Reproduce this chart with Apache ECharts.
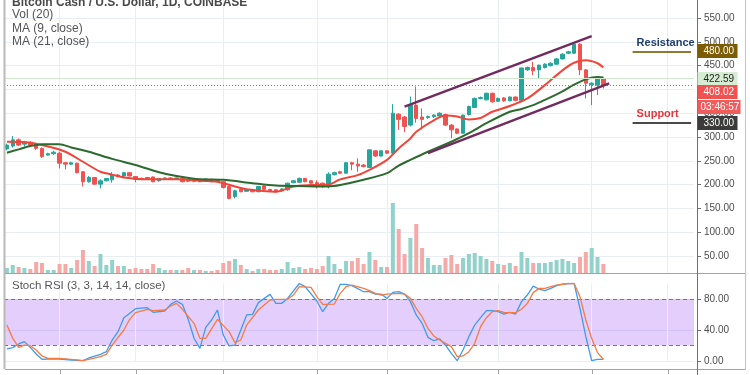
<!DOCTYPE html>
<html>
<head>
<meta charset="utf-8">
<title>Bitcoin Cash / U.S. Dollar, 1D, COINBASE</title>
<script src="https://cdn.jsdelivr.net/npm/echarts@6/dist/echarts.min.js"></script>
<style>
  html, body { margin: 0; padding: 0; background: #fff; }
  #chart { width: 750px; height: 375px; }
</style>
</head>
<body>
<div id="chart"></div>
<script>
// 日线K线 [开, 收, 低, 高]
const candles = [
    [275, 283, 272, 286], [281, 294, 278, 302], [294, 283, 281, 297], [285, 290, 280, 292], [289, 283, 281, 291],
    [285, 276, 273, 288], [276, 259, 256, 278], [262, 265, 261, 267], [265, 268, 262, 271], [266, 245, 234, 269],
    [246, 243, 232, 247], [243, 246, 241, 248], [245, 225, 224, 246], [227, 206, 196, 228], [206, 215, 204, 218],
    [215, 201, 200, 216], [201, 208, 192, 211], [208, 213, 207, 214], [210, 220, 204, 226], [220, 217, 215, 222],
    [218, 225, 216, 227], [225, 218, 217, 226], [217, 211, 205, 218], [213, 212, 210, 215], [215, 211, 210, 216],
    [216, 206, 205, 217], [208, 213, 206, 214], [212, 214, 211, 215], [214, 211, 210, 215], [211, 214, 210, 215],
    [213, 206, 205, 214], [211, 207, 205, 212], [207, 211, 205, 212], [211, 206, 205, 212], [208, 212, 207, 213],
    [211, 206, 205, 212], [210, 206, 205, 211], [206, 194, 192, 207], [196, 171, 169, 197], [175, 187, 171, 189],
    [190, 185, 184, 191], [186, 189, 185, 190], [189, 185, 184, 190], [185, 196, 184, 197], [197, 190, 189, 198],
    [190, 187, 186, 191], [189, 185, 183, 190], [187, 191, 185, 192], [189, 203, 187, 204], [204, 208, 203, 209],
    [205, 213, 204, 215], [213, 206, 205, 214], [208, 203, 202, 209], [204, 199, 192, 209], [203, 196, 193, 204],
    [196, 222, 192, 226], [221, 225, 219, 227], [227, 224, 223, 229], [224, 246, 223, 247], [246, 243, 230, 248],
    [243, 239, 227, 255], [241, 238, 236, 243], [236, 273, 235, 274], [271, 260, 258, 272], [260, 271, 259, 272],
    [271, 266, 265, 272], [266, 350, 262, 369], [348, 337, 315, 350], [342, 322, 310, 344], [325, 368, 322, 385],
    [367, 339, 330, 406], [342, 337, 316, 360], [341, 343, 338, 345], [343, 346, 340, 348], [344, 350, 342, 352],
    [347, 325, 323, 349], [325, 315, 297, 327], [317, 308, 306, 318], [308, 346, 307, 347], [347, 364, 345, 366],
    [362, 381, 361, 383], [381, 383, 379, 385], [378, 392, 377, 393], [392, 374, 372, 393], [375, 381, 374, 383],
    [382, 376, 374, 384], [376, 384, 375, 385], [384, 377, 375, 385], [377, 445, 376, 446], [441, 446, 439, 448],
    [446, 439, 430, 458], [441, 451, 423, 452], [446, 453, 444, 455], [450, 455, 448, 457], [453, 464, 452, 466],
    [464, 474, 463, 476], [476, 479, 474, 481], [476, 495, 475, 497], [495, 441, 430, 497], [441, 413, 381, 443],
    [410, 413, 367, 415], [409, 423, 388, 425], [423, 408, 402, 425]
];

const volume = [
    5, 8, 6, 5, 4, 11, 10, 3, 3, 9, 9, 5, 13, 23, 12, 7, 19, 8, 13, 7,
    7, 4, 5, 4, 4, 9, 5, 3, 3, 3, 3, 5, 3, 3, 2, 2, 3, 10, 12, 14,
    8, 4, 2, 4, 4, 3, 3, 4, 11, 5, 6, 4, 5, 4, 7, 17, 9, 4, 12, 12,
    15, 9, 21, 13, 6, 6, 70, 44, 19, 35, 49, 25, 15, 8, 8, 15, 18, 9, 15, 19,
    20, 17, 14, 12, 9, 8, 10, 7, 21, 15, 10, 10, 10, 11, 13, 14, 12, 10, 16, 21,
    25, 16, 9
];

// 均线 [K线序号, 值]
const ma9Points = [
    [0, 290], [4, 288], [7, 280], [10, 269], [13, 248], [16, 227], [18, 221], [20, 215], [24, 211], [29, 211],
    [33, 208], [36, 206], [39, 196], [41, 190], [46, 185], [49, 196], [52, 199], [55, 200], [57, 211], [60, 220],
    [62, 231], [65, 252], [67, 276], [69, 297], [70, 311], [73, 335], [75, 345], [77, 343], [79, 337], [81, 340],
    [83, 353], [86, 365], [89, 381], [92, 409], [95, 440], [97, 456], [99, 461], [101, 455], [102, 446]
];
const ma21Points = [
    [0, 267], [2, 274], [4, 281], [6, 285], [9, 285], [11, 278], [14, 269], [18, 254], [22, 241], [26, 226],
    [29, 218], [33, 211], [37, 210], [42, 203], [46, 198], [50, 197], [55, 196], [57, 199], [61, 210], [65, 224],
    [67, 240], [69, 252], [72, 269], [76, 290], [79, 308], [82, 329], [86, 353], [88, 359], [90, 367], [92, 378],
    [95, 396], [97, 410], [99, 421], [101, 426], [102, 425]
];

// Stoch RSI
const stochK = [
    [0, 15.5], [1, 17.2], [2, 22], [3, 25], [4, 17.6], [5, 9], [6, 2.2], [7, 2.6], [9, 2.6], [11, 1.3],
    [13, 0.4], [14, 3.9], [16, 8.6], [17, 12], [18, 27], [19, 37.8], [20, 55.9], [21, 61.5], [22, 67.5], [24, 68.8],
    [25, 62.8], [27, 64.5], [28, 73.1], [29, 77.4], [30, 73.1], [31, 53.8], [32, 29.3], [33, 16.3], [34, 43.4], [35, 52.9],
    [36, 65.8], [37, 33.5], [38, 19.4], [39, 20.6], [41, 59.4], [42, 60.2], [43, 75.3], [45, 86], [46, 74.4], [47, 74.4],
    [48, 80.8], [50, 100], [51, 95.9], [53, 77.4], [54, 63.6], [55, 74.4], [56, 80.8], [57, 98.9], [58, 98.9], [59, 97.2],
    [61, 89.4], [62, 89.4], [63, 86.4], [64, 86.4], [65, 80.8], [66, 88.6], [67, 89.4], [68, 86.4], [69, 76.6], [70, 59.4],
    [71, 48.6], [72, 30.5], [73, 26.2], [74, 28.4], [75, 20.6], [76, 9.9], [77, 0.4], [78, 14.2], [79, 31.4], [80, 46.4],
    [81, 55.9], [82, 64.9], [83, 64.9], [84, 63.6], [85, 60.6], [86, 62.8], [87, 60.6], [88, 76.6], [89, 85.1], [90, 96.7],
    [91, 92.9], [92, 90.7], [93, 93.7], [94, 97.2], [95, 99.3], [96, 100], [97, 100], [98, 67.9], [99, 31.4], [100, 0.4],
    [101, 2.2], [102, 2.2]
];
const stochD = [
    [0, 46.4], [1, 29.2], [2, 17.6], [3, 20.6], [4, 19.8], [5, 14.2], [6, 6.5], [7, 3.4], [9, 3.4], [11, 2.2],
    [13, 0.4], [14, 2.2], [16, 5.6], [17, 8.6], [18, 20.6], [20, 40], [21, 53.8], [22, 62.4], [24, 66.7], [25, 64.9],
    [27, 65.8], [28, 71], [29, 74.4], [30, 66.7], [32, 48.6], [33, 29.2], [34, 29.2], [36, 53.8], [38, 37.9], [39, 23.7],
    [40, 27.1], [41, 46.4], [43, 65.8], [45, 78.7], [46, 79.6], [48, 79.6], [49, 85.1], [50, 95.9], [52, 95], [53, 83],
    [54, 73.1], [56, 73.5], [57, 87.3], [58, 95.9], [59, 98], [61, 93.7], [62, 90.7], [63, 87.3], [64, 85.1], [65, 86.4],
    [67, 87.3], [68, 86.4], [69, 80.8], [70, 68], [71, 57.2], [72, 42.2], [73, 32.3], [74, 27.1], [76, 18.5], [77, 5.6],
    [78, 6.5], [79, 12], [80, 22.8], [81, 44.3], [82, 55.9], [83, 63.6], [84, 64.9], [85, 62.8], [87, 62.4], [88, 66.7],
    [89, 74.4], [90, 88.2], [91, 93.7], [92, 93.7], [93, 95.9], [94, 98], [96, 100], [97, 100], [98, 83], [99, 52.9],
    [100, 29.2], [101, 10.8], [102, 2.2]
];

const priceTicks = [50, 100, 150, 200, 250, 300, 350, 400, 450, 500, 550];
const rsiTicks = [0, 40, 80];
const gridLineIdx = [9, 22, 37, 53, 65, 84, 100, 113];
const channelUpper = [[68, 363.6], [100, 512]];
const channelLower = [[72, 266], [103, 412.4]];
const resistance = 480;
const support = 330;
const lastPrice = 408.02;
const maLast = 422.59;
const totalBars = 118;

// 日期序列（含右侧空白区）
const dates = [];
const startDay = Date.UTC(2019, 10, 9);
for (let i = 0; i < totalBars; i++) {
    dates.push(new Date(startDay + i * 86400000).toISOString().slice(0, 10));
}

const UP = '#26a69a';
const DOWN = '#ef5350';
const GRID_COLOR = '#e9eef4';
const FONT = '"Liberation Sans Narrow", "Liberation Sans", sans-serif';

const volumeData = volume.map(function (v, i) {
    const up = candles[i][1] >= candles[i][0];
    return { value: v, itemStyle: { color: up ? '#93d2cb' : '#f6aaa8' } };
});

function hiddenX(gridIndex) {
    return {
        type: 'category', gridIndex: gridIndex, data: dates, boundaryGap: true,
        axisLine: { show: false }, axisTick: { show: false }, axisLabel: { show: false }, splitLine: { show: false }
    };
}

const vLines = gridLineIdx.map(function (i) { return { xAxis: i }; });

const chart = echarts.init(document.getElementById('chart'));

const option = {
    animation: false,
    backgroundColor: '#fff',
    grid: [
        { left: 4, right: 56, top: 0, height: 273 },
        { left: 4, right: 56, top: 193, height: 80 },
        { left: 4, right: 56, top: 283.5, bottom: 14 }
    ],
    xAxis: [hiddenX(0), hiddenX(1), hiddenX(2)],
    yAxis: [
        {
            type: 'value', gridIndex: 0, position: 'right', offset: 3, min: 14.3, max: 587.8,
            axisLine: { show: false },
            axisTick: { show: true, length: 4, customValues: priceTicks, lineStyle: { color: '#6f6f6f' } },
            axisLabel: {
                customValues: priceTicks, margin: 7, color: '#4d4d4d', fontSize: 10, fontFamily: FONT,
                formatter: function (v) { return v.toFixed(2); }
            },
            splitLine: { show: true, lineStyle: { color: GRID_COLOR } }
        },
        {
            type: 'value', gridIndex: 1, min: 0, max: 80, show: false,
            splitLine: { show: false }
        },
        {
            type: 'value', gridIndex: 2, position: 'right', offset: 3, min: 0, max: 100,
            axisLine: { show: false },
            axisTick: { show: true, length: 4, customValues: rsiTicks, lineStyle: { color: '#6f6f6f' } },
            axisLabel: {
                customValues: rsiTicks, margin: 7, color: '#4d4d4d', fontSize: 10, fontFamily: FONT,
                formatter: function (v) { return v.toFixed(2); }
            },
            splitLine: { show: true, lineStyle: { color: GRID_COLOR } }
        }
    ],
    series: [
        {
            // 竖向网格线
            name: 'gridV', type: 'line', xAxisIndex: 0, yAxisIndex: 0, data: [], silent: true,
            markLine: {
                silent: true, symbol: ['none', 'none'], z: 1, label: { show: false },
                lineStyle: { color: GRID_COLOR, width: 1, type: 'solid' },
                data: vLines
            }
        },
        {
            name: 'Vol', type: 'bar', xAxisIndex: 1, yAxisIndex: 1, data: volumeData, barWidth: 4, silent: true
        },
        {
            name: 'BCHUSD', type: 'candlestick', xAxisIndex: 0, yAxisIndex: 0, data: candles, barWidth: 4,
            itemStyle: { color: UP, color0: DOWN, borderColor: UP, borderColor0: DOWN, borderWidth: 1 },
            markLine: {
                silent: true, symbol: ['none', 'none'],
                label: { show: false },
                data: [
                    { yAxis: maLast, lineStyle: { color: '#cfe7cb', width: 1, type: 'solid' } },
                    { yAxis: lastPrice, lineStyle: { color: '#ef5350', width: 1, type: [1, 2] } },
                    [
                        { coord: channelUpper[0], lineStyle: { color: '#722b5e', width: 2.4, type: 'solid' } },
                        { coord: channelUpper[1] }
                    ],
                    [
                        { coord: channelLower[0], lineStyle: { color: '#722b5e', width: 2.4, type: 'solid' } },
                        { coord: channelLower[1] }
                    ],
                    [
                        {
                            coord: [107, resistance], lineStyle: { color: '#957634', width: 2, type: 'solid' },
                            label: {
                                show: true, position: 'insideStartTop', distance: [4, 3], formatter: 'Resistance',
                                color: '#1f3d6c', fontWeight: 'bold', fontSize: 11, fontFamily: FONT
                            }
                        },
                        { coord: [117, resistance] }
                    ],
                    [
                        {
                            coord: [107, support], lineStyle: { color: '#4a4a4a', width: 2, type: 'solid' },
                            label: {
                                show: true, position: 'insideStartTop', distance: [4, 3], formatter: 'Support',
                                color: '#e0383e', fontWeight: 'bold', fontSize: 11, fontFamily: FONT
                            }
                        },
                        { coord: [117, support] }
                    ]
                ]
            }
        },
        {
            name: 'MA9', type: 'line', xAxisIndex: 0, yAxisIndex: 0, data: ma9Points, smooth: 0.3,
            showSymbol: false, silent: true, lineStyle: { color: '#f0453a', width: 2 }
        },
        {
            name: 'MA21', type: 'line', xAxisIndex: 0, yAxisIndex: 0, data: ma21Points, smooth: 0.3,
            showSymbol: false, silent: true, lineStyle: { color: '#2d6a2f', width: 2 }
        },
        {
            // RSI 区间带与网格
            name: 'rsiBand', type: 'line', xAxisIndex: 2, yAxisIndex: 2, data: [], silent: true,
            markArea: {
                silent: true, z: 0,
                itemStyle: { color: 'rgba(149, 60, 240, 0.25)' },
                data: [[{ yAxis: 20 }, { yAxis: 80 }]]
            },
            markLine: {
                silent: true, symbol: ['none', 'none'], z: 1, label: { show: false },
                lineStyle: { color: GRID_COLOR, width: 1, type: 'solid' },
                data: vLines.concat([
                    { yAxis: 80, lineStyle: { color: '#787878', width: 1, type: [4, 3] } },
                    { yAxis: 20, lineStyle: { color: '#787878', width: 1, type: [4, 3] } }
                ])
            }
        },
        {
            name: '%K', type: 'line', xAxisIndex: 2, yAxisIndex: 2, data: stochK,
            showSymbol: false, silent: true, lineStyle: { color: '#3f9bf0', width: 1.3 }
        },
        {
            name: '%D', type: 'line', xAxisIndex: 2, yAxisIndex: 2, data: stochD,
            showSymbol: false, silent: true, lineStyle: { color: '#f47c45', width: 1.3 }
        }
    ]
};

chart.setOption(option);

// 价格标签
function priceY(v) {
    return chart.convertToPixel({ yAxisIndex: 0 }, v);
}

function tagBox(cy, text, bg, fg, w, tx) {
    const top = Math.round(cy) - 7;
    return [
        { type: 'rect', z: 120, silent: true, shape: { x: 697.5, y: top, width: w, height: 14 }, style: { fill: bg } },
        {
            type: 'text', z: 121, silent: true,
            style: { x: 697.5 + tx, y: top + 7.5, text: text, fill: fg, font: '10px ' + FONT, verticalAlign: 'middle' }
        }
    ];
}

function hLine(x1, x2, y, color, w) {
    return { type: 'line', z: 90, silent: true, shape: { x1: x1, y1: y, x2: x2, y2: y }, style: { stroke: color, lineWidth: w || 1 } };
}
function vLine(x, y1, y2, color, w) {
    return { type: 'line', z: 90, silent: true, shape: { x1: x, y1: y1, x2: x, y2: y2 }, style: { stroke: color, lineWidth: w || 1 } };
}
function label(x, y, text, size, weight, color) {
    return {
        type: 'text', z: 95, silent: true,
        style: { x: x, y: y, text: text, fill: color, font: (weight || 'normal') + ' ' + size + 'px ' + FONT, verticalAlign: 'middle' }
    };
}

const lastY = priceY(lastPrice);
let graphics = [
    vLine(4.5, 0, 369, '#b9b9b9', 2),
    hLine(5, 745, 273.5, '#a3a3a3'),
    hLine(5, 745, 369.5, '#a3a3a3'),
    vLine(697.5, 0, 375, '#707070'),
    vLine(745.5, 0, 370, '#c4c4c4'),
    label(12, 3, 'Bitcoin Cash / U.S. Dollar, 1D, COINBASE', 12, 'bold', '#4a4a4a'),
    label(12, 15, 'Vol (20)', 12, 'normal', '#555'),
    label(12, 28.5, 'MA (9, close)', 12, 'normal', '#555'),
    label(12, 42, 'MA (21, close)', 12, 'normal', '#555'),
    label(12, 286, 'Stoch RSI (3, 3, 14, 14, close)', 11.5, 'normal', '#555')
];
graphics = graphics.concat(
    tagBox(priceY(resistance), resistance.toFixed(2), '#7c5c05', '#fff', 40, 6),
    tagBox(priceY(maLast), maLast.toFixed(2), '#d6ecd3', '#222', 40, 6),
    tagBox(lastY + 6, lastPrice.toFixed(2), '#ef5350', '#fff', 40, 6),
    tagBox(lastY + 21, '03:46:57', '#f05b5b', '#fff', 43, 3),
    tagBox(priceY(support), support.toFixed(2), '#3b3b3b', '#fff', 40, 6)
);
gridLineIdx.forEach(function (i) {
    const x = Math.round(chart.convertToPixel({ xAxisIndex: 2 }, dates[i])) + 0.5;
    graphics.push(vLine(x, 370, 374, '#a3a3a3'));
});

chart.setOption({ graphic: graphics });

window.addEventListener('resize', function () {
    chart.resize();
});
</script>
</body>
</html>
